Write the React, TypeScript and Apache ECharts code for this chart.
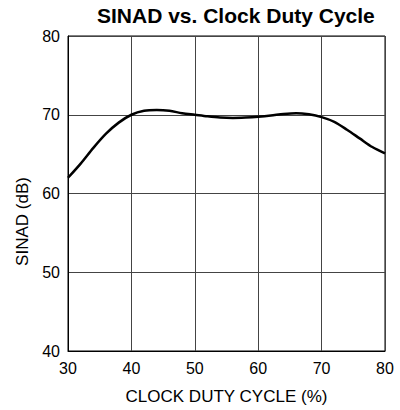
import React, { useEffect, useRef } from "react";
import * as echarts from "echarts";

const dutyCycle = [30, 32, 34, 36, 38, 40, 42, 44, 46, 48, 50, 52, 54, 56, 58, 60, 62, 64, 66, 68, 70, 72, 74, 76, 78, 80];
const sinad = [62.0, 63.8, 65.8, 67.6, 69.0, 70.0, 70.5, 70.6, 70.5, 70.2, 70.0, 69.8, 69.65, 69.6, 69.65, 69.75, 69.9, 70.1, 70.2, 70.05, 69.7, 69.1, 68.1, 67.0, 65.9, 65.1];

export default function App() {
  const ref = useRef<HTMLDivElement>(null);
  useEffect(() => {
    if (!ref.current) return;
    document.body.style.margin = "0";
    document.body.style.overflow = "hidden";
    const chart = echarts.init(ref.current, null, { renderer: "svg" });
    const font = "Liberation Sans, Arial, sans-serif";
    chart.setOption({
      animation: false,
      backgroundColor: "#fff",
      title: {
        text: "SINAD vs. Clock Duty Cycle",
        left: 92,
        top: 0,
        textStyle: { fontFamily: font, fontWeight: "bold", fontSize: 21, color: "#000" },
      },
      grid: { left: 68, right: 15, top: 36, bottom: 58, show: true, borderColor: "#000", borderWidth: 1 },
      xAxis: {
        type: "value",
        min: 30,
        max: 80,
        interval: 10,
        name: "CLOCK DUTY CYCLE (%)",
        nameLocation: "middle",
        nameGap: 37,
        nameTextStyle: { fontFamily: font, fontSize: 17, color: "#000" },
        axisLine: { lineStyle: { color: "#000", width: 1 } },
        axisTick: { show: false },
        axisLabel: { fontFamily: font, fontSize: 16, color: "#000", margin: 9 },
        splitLine: { lineStyle: { color: "#444", width: 1 } },
      },
      yAxis: {
        type: "value",
        min: 40,
        max: 80,
        interval: 10,
        name: "SINAD (dB)",
        nameLocation: "middle",
        nameGap: 36,
        nameTextStyle: { fontFamily: font, fontSize: 17, color: "#000", padding: [0, 56, 0, 0] },
        axisLine: { show: true, lineStyle: { color: "#000", width: 1 } },
        axisTick: { show: false },
        axisLabel: { fontFamily: font, fontSize: 16, color: "#000", margin: 8 },
        splitLine: { lineStyle: { color: "#444", width: 1 } },
      },
      series: [
        {
          type: "line",
          data: dutyCycle.map((x, i) => [x, sinad[i]]),
          smooth: 0.3,
          showSymbol: false,
          lineStyle: { color: "#000", width: 2.5 },
        },
      ],
    });
    return () => chart.dispose();
  }, []);
  return <div ref={ref} style={{ position: "fixed", left: 0, top: 0, width: 400, height: 410 }} />;
}
